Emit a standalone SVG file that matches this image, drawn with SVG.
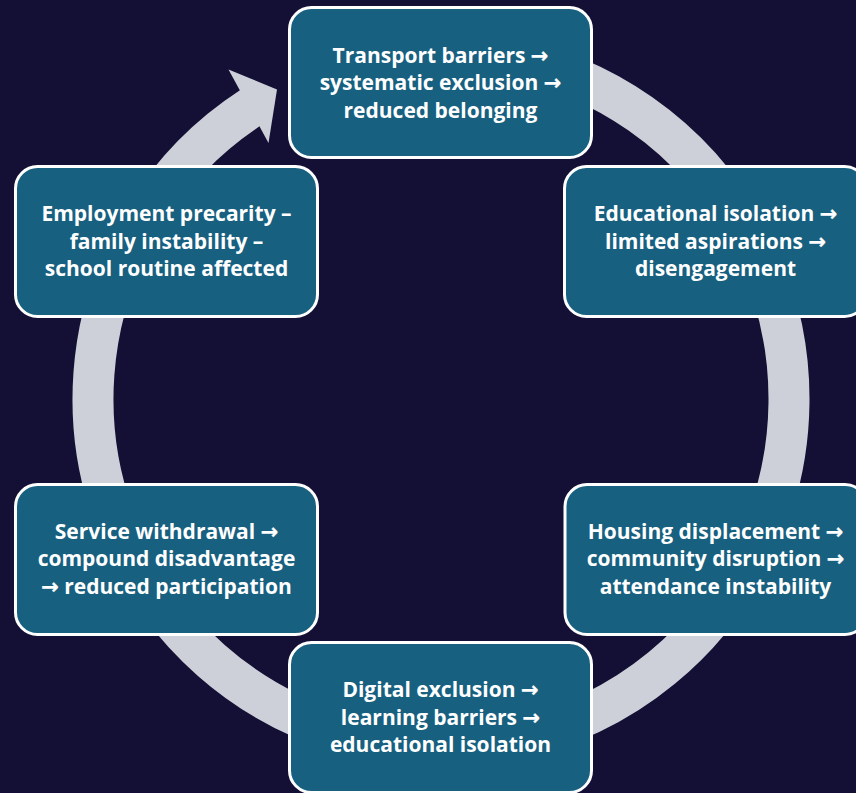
<svg xmlns="http://www.w3.org/2000/svg" width="856" height="793" viewBox="0 0 856 793">
  <defs>
    <style>
      .bg { fill: #130f35; }
      .ring { fill: none; stroke: #cdd0d8; stroke-width: 41; }
      .head { fill: #cdd0d8; }
      .box { fill: #17607f; stroke: #ffffff; stroke-width: 3; }
      .label { font-family: "Open Sans", "DejaVu Sans", sans-serif; font-weight: 700; font-size: 21px; fill: #ffffff; text-anchor: middle; }
      .arr { font-family: "DejaVu Sans", sans-serif; font-weight: 700; font-size: 21px; stroke: #ffffff; stroke-width: 0.3px; }
    </style>
  </defs>

  <rect class="bg" x="0" y="0" width="856" height="793"/>

  <!-- circular flow: one clockwise arc ending in an arrowhead at the upper left -->
  <g id="connectors">
    <path class="ring" d="M 501.43 56.29 A 348 348 0 1 1 251.47 107.14"/>
    <polygon class="head" points="228.5,69.5 277,89.5 268.5,143"/>
  </g>

  <g id="node-transport">
    <rect class="box" x="289.5" y="7.5" width="302" height="150" rx="22"/>
    <text class="label" x="440.5" y="62.5">Transport barriers <tspan class="arr">→</tspan></text>
    <text class="label" x="440.5" y="90">systematic exclusion <tspan class="arr">→</tspan></text>
    <text class="label" x="440.5" y="117.5">reduced belonging</text>
  </g>

  <g id="node-educational">
    <rect class="box" x="564.5" y="166.5" width="302" height="150" rx="22"/>
    <text class="label" x="715.5" y="221">Educational isolation <tspan class="arr">→</tspan></text>
    <text class="label" x="715.5" y="248.5">limited aspirations <tspan class="arr">→</tspan></text>
    <text class="label" x="715.5" y="276">disengagement</text>
  </g>

  <g id="node-housing">
    <rect class="box" x="565" y="484.5" width="302" height="150" rx="22"/>
    <text class="label" x="715.5" y="538.5">Housing displacement <tspan class="arr">→</tspan></text>
    <text class="label" x="715.5" y="566">community disruption <tspan class="arr">→</tspan></text>
    <text class="label" x="715.5" y="593.5">attendance instability</text>
  </g>

  <g id="node-digital">
    <rect class="box" x="289.5" y="642.5" width="302" height="150" rx="22"/>
    <text class="label" x="440.5" y="697">Digital exclusion <tspan class="arr">→</tspan></text>
    <text class="label" x="440.5" y="724.5">learning barriers <tspan class="arr">→</tspan></text>
    <text class="label" x="440.5" y="752">educational isolation</text>
  </g>

  <g id="node-service">
    <rect class="box" x="15.5" y="484.5" width="302" height="150" rx="22"/>
    <text class="label" x="166.5" y="538.5">Service withdrawal <tspan class="arr">→</tspan></text>
    <text class="label" x="166.5" y="566">compound disadvantage</text>
    <text class="label" x="166.5" y="593.5"><tspan class="arr">→</tspan> reduced participation</text>
  </g>

  <g id="node-employment">
    <rect class="box" x="15.5" y="166.5" width="302" height="150" rx="22"/>
    <text class="label" x="166.5" y="221">Employment precarity –</text>
    <text class="label" x="166.5" y="248.5">family instability –</text>
    <text class="label" x="166.5" y="276">school routine affected</text>
  </g>
</svg>
